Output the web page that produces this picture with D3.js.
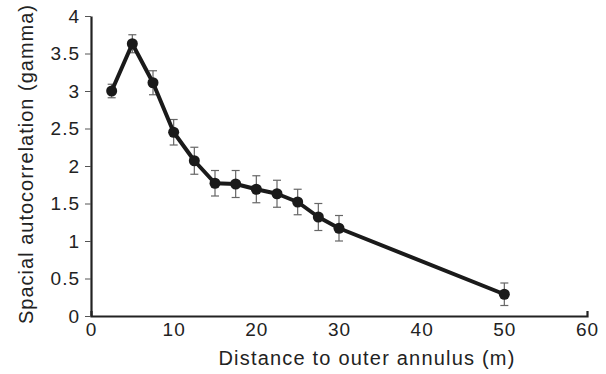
<html>
<head>
<script src="https://d3js.org/d3.v7.min.js"></script>
<style>
  body { margin: 0; background: #fff; }
  text { font-family: "Liberation Sans", Arial, sans-serif; fill: #222; }
</style>
</head>
<body>
<div id="chart"></div>
<script>
// distance to outer annulus (m)
var distance = [2.5, 5, 7.5, 10, 12.5, 15, 17.5, 20, 22.5, 25, 27.5, 30, 50];
// spatial autocorrelation (gamma)
var gamma = [3.00, 3.63, 3.11, 2.45, 2.07, 1.77, 1.76, 1.69, 1.63, 1.52, 1.32, 1.17, 0.29];
// half-length of error bars
var err = [0.09, 0.12, 0.16, 0.17, 0.18, 0.17, 0.18, 0.18, 0.18, 0.17, 0.18, 0.17, 0.15];
var xTicks = [0, 10, 20, 30, 40, 50, 60];
var yTicks = [0, 0.5, 1, 1.5, 2, 2.5, 3, 3.5, 4];

var W = 606, H = 374;
var svg = d3.select("#chart").append("svg").attr("width", W).attr("height", H);

var x = d3.scaleLinear().domain([0, 60]).range([91, 587]);
var y = d3.scaleLinear().domain([0, 4]).range([316, 16]);

// x axis: only end ticks, pointing up
var xAxis = svg.append("g")
  .attr("transform", "translate(0," + y(0) + ")")
  .call(d3.axisBottom(x).tickValues(xTicks).tickSizeInner(0).tickSizeOuter(-5).tickPadding(7).tickFormat(d3.format("d")));
xAxis.selectAll("text").attr("font-size", 19).attr("fill", "#222").attr("letter-spacing", 1)
  .style("font-family", "Liberation Sans, Arial, sans-serif");

var yAxis = svg.append("g")
  .attr("transform", "translate(" + x(0) + ",0)")
  .call(d3.axisLeft(y).tickValues(yTicks).tickSizeInner(6).tickSizeOuter(0).tickPadding(5).tickFormat(d3.format("")));
yAxis.selectAll("text").attr("font-size", 19).attr("fill", "#222").attr("letter-spacing", 1)
  .style("font-family", "Liberation Sans, Arial, sans-serif");

svg.selectAll(".domain").attr("stroke", "#222").attr("stroke-width", 2.2);
yAxis.selectAll(".tick line").attr("stroke", "#555").attr("stroke-width", 1);

// axis titles
svg.append("text")
  .attr("x", 367).attr("y", 365)
  .attr("text-anchor", "middle").attr("font-size", 20).attr("letter-spacing", 1.2)
  .text("Distance to outer annulus (m)");

svg.append("text")
  .attr("transform", "translate(33," + 164 + ") rotate(-90)")
  .attr("text-anchor", "middle").attr("font-size", 20).attr("letter-spacing", 1)
  .text("Spacial autocorrelation (gamma)");

var pts = distance.map(function(d, i) { return {x: d, y: gamma[i], e: err[i]}; });

// error bars
var eb = svg.append("g").attr("stroke", "#666").attr("stroke-width", 1.2);
eb.selectAll(".v").data(pts).enter().append("line")
  .attr("x1", function(d) { return x(d.x); }).attr("x2", function(d) { return x(d.x); })
  .attr("y1", function(d) { return y(d.y + d.e); }).attr("y2", function(d) { return y(d.y - d.e); });
eb.selectAll(".t").data(pts).enter().append("line")
  .attr("x1", function(d) { return x(d.x) - 4; }).attr("x2", function(d) { return x(d.x) + 4; })
  .attr("y1", function(d) { return y(d.y + d.e); }).attr("y2", function(d) { return y(d.y + d.e); });
eb.selectAll(".b").data(pts).enter().append("line")
  .attr("x1", function(d) { return x(d.x) - 4; }).attr("x2", function(d) { return x(d.x) + 4; })
  .attr("y1", function(d) { return y(d.y - d.e); }).attr("y2", function(d) { return y(d.y - d.e); });

// line
var line = d3.line().x(function(d) { return x(d.x); }).y(function(d) { return y(d.y); });
svg.append("path").datum(pts)
  .attr("d", line).attr("fill", "none")
  .attr("stroke", "#1a1a1a").attr("stroke-width", 4).attr("stroke-linejoin", "round");

svg.selectAll(".pt").data(pts).enter().append("circle")
  .attr("cx", function(d) { return x(d.x); })
  .attr("cy", function(d) { return y(d.y); })
  .attr("r", 5.5).attr("fill", "#1a1a1a");
</script>
</body>
</html>
